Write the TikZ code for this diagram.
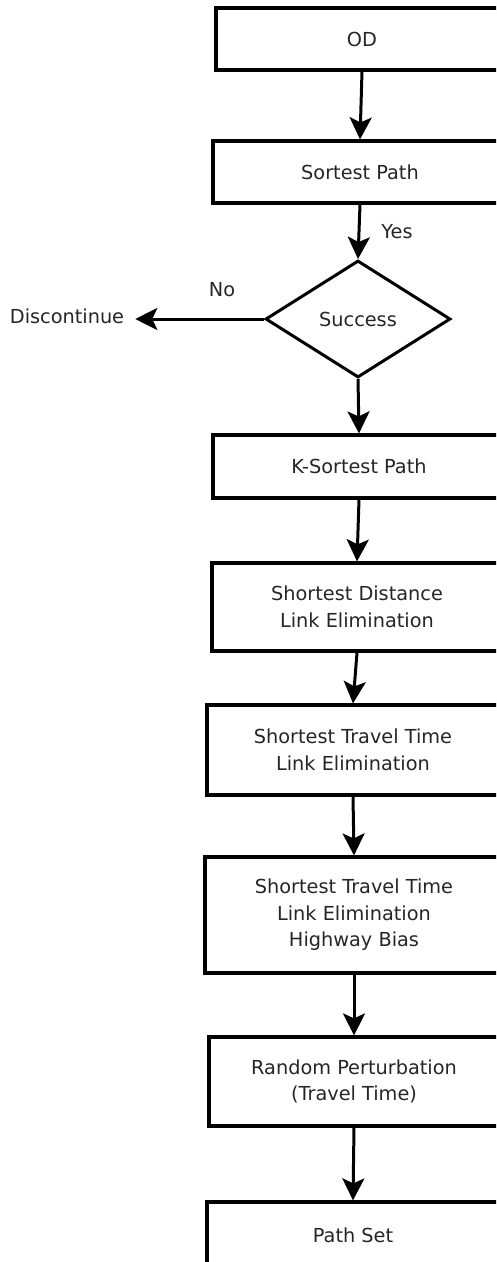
\documentclass[tikz,border=0pt]{standalone}
\usepackage{fontspec}
\setmainfont{DejaVu Sans}
\usetikzlibrary{shapes.geometric,arrows.meta}
\begin{document}
\begin{tikzpicture}[x=1pt,y=-1pt,
  every node/.style={font=\fontsize{19.3}{26.5}\selectfont, text=black!85},
  stepbox/.style={draw=black, line width=3.2pt, rectangle, inner sep=0pt, align=center},
  decide/.style={draw=black, line width=3pt, diamond, inner sep=0pt, minimum width=185pt, minimum height=117pt},
  arr/.style={draw=black, line width=3pt, -{Stealth[length=22pt,width=22pt,inset=5pt]}},
  lbl/.style={inner sep=0pt}
]
\path[use as bounding box, clip] (0,0) rectangle (496,1262);
\fill[white] (0,0) rectangle (496,1262);
\node[stepbox, minimum width=292pt, minimum height=62pt] (od) at (362,39) {OD};
\node[stepbox, minimum width=294pt, minimum height=62pt] (sp) at (360,172) {Sortest Path};
\node[decide] (dia) at (358,319) {Success};
\node[lbl, inner xsep=11pt] (disc) at (67,316) {Discontinue};
\node[lbl] (no) at (222,290) {No};
\node[lbl] (yes) at (397,232) {Yes};
\node[stepbox, minimum width=292pt, minimum height=63pt] (k) at (359,466.5) {K-Sortest Path};
\node[stepbox, minimum width=290pt, minimum height=88pt] (sd) at (357,607) {Shortest Distance\\Link Elimination};
\node[stepbox, minimum width=292pt, minimum height=90pt] (stt) at (353,750) {Shortest Travel Time\\Link Elimination};
\node[stepbox, minimum width=298pt, minimum height=116pt] (hb) at (354,915) {Shortest Travel Time\\Link Elimination\\Highway Bias};
\node[stepbox, minimum width=290pt, minimum height=89pt] (rp) at (354,1081.5) {Random Perturbation\\(Travel Time)};
\node[stepbox, minimum width=292pt, minimum height=66pt] (ps) at (353,1235) {Path Set};
\draw[arr] (od.south) -- (sp.north);
\draw[arr] (sp.south) -- (dia.north);
\draw[arr] (dia.west) -- (disc.east |- dia.west);
\draw[arr] (dia.south) -- (k.north);
\draw[arr] (k.south) -- (sd.north);
\draw[arr] (sd.south) -- (stt.north);
\draw[arr] (stt.south) -- (hb.north);
\draw[arr] (hb.south) -- (rp.north);
\draw[arr] (rp.south) -- (ps.north);
\end{tikzpicture}
\end{document}
